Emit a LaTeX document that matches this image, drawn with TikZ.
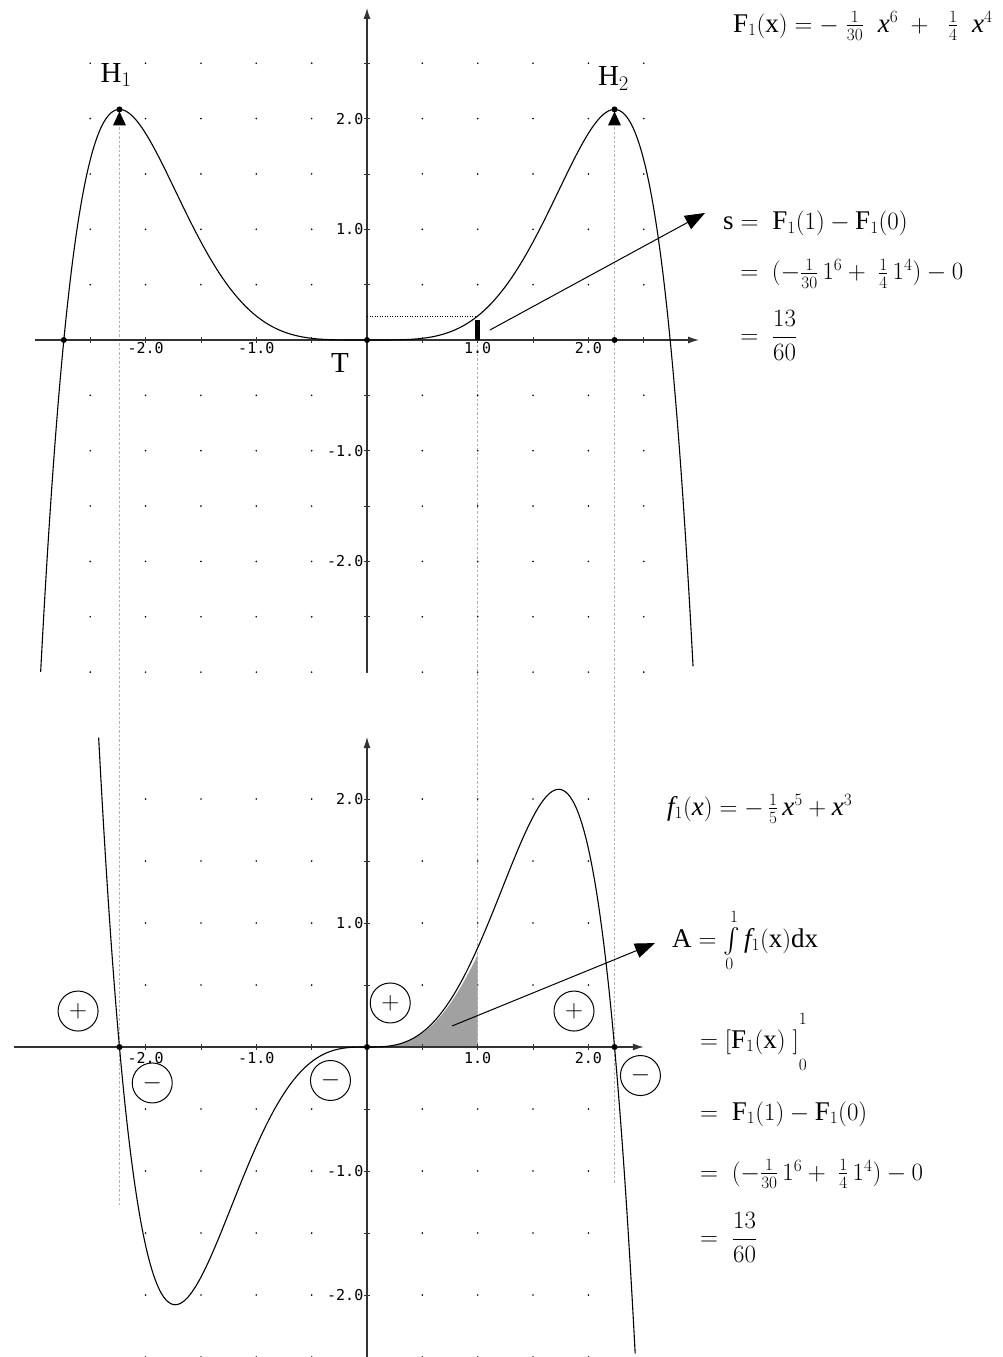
\documentclass[tikz,border=0pt]{standalone}
\usepackage{amsmath}
\usepackage{fontspec}
\setmainfont{Liberation Serif}
\newfontfamily\tickfont{DejaVu Sans Mono}
\usepackage{tikz}
\usetikzlibrary{arrows.meta, calc, positioning}

\begin{document}
\begin{tikzpicture}[x=110.7pt, y=110.7pt,
        lower/.style={yshift=-707pt, y=124pt},
        axisline/.style={black!80, line width=1.2pt},
        axisarrow/.style={-{Latex[length=11pt,width=7pt]}},
        graphline/.style={black, line width=1.1pt},
        guideline/.style={black!30, line width=1pt, dash pattern=on 2.5pt off 2pt},
        zeropt/.style={circle, fill=black, inner sep=0pt, minimum size=6pt},
        ticklabel/.style={font=\tickfont\fontsize{15}{17}\selectfont, inner sep=1.5pt},
        mathtext/.style={font=\fontsize{27}{31}\selectfont, inner sep=0pt, anchor=base west},
        ptlabel/.style={font=\fontsize{29}{32}\selectfont, inner sep=0pt, anchor=base},
        signcircle/.style={circle, draw, line width=1pt, minimum size=40pt, inner sep=0pt, font=\fontsize{26}{30}\selectfont},
        pointer/.style={-{Triangle[length=20pt,width=15pt]}, line width=1pt}]
    \useasboundingbox (-367pt,-1017pt) rectangle (635pt,340pt);

    % Points that the guide lines join
    \coordinate (H1) at (-2.236,2.083);
    \coordinate (H2) at (2.236,2.083);
    \coordinate (S) at (1,0);
    \begin{scope}[lower]
        \coordinate (H1low) at (-2.236,-1.29);
        \coordinate (H2low) at (2.236,-1.10);
        \coordinate (Slow) at (1,0);
    \end{scope}

    % Guide lines between the two graphs
    \draw[guideline] (H1) -- (H1low);
    \draw[guideline] (H2) -- (H2low);
    \draw[guideline] (S) -- (Slow);

    % Upper graph: grid dots
    \foreach \gx in {-2.5,-2,...,2.5}
        \foreach \gy in {-3,-2.5,...,2.5}
            \fill (\gx,\gy) circle (0.9pt);

    % Upper graph: axes, ticks and tick labels
    \draw[axisline, axisarrow] (-3,0) -- (3,0);
    \draw[axisline, axisarrow] (0,-3) -- (0,3);
    \foreach \t in {-2.5,-2,...,2.5} {
        \draw[axisline, line width=0.8pt] ([yshift=-3pt]\t,0) -- ([yshift=3pt]\t,0);
        \draw[axisline, line width=0.8pt] ([xshift=-3pt]0,\t) -- ([xshift=3pt]0,\t);
    }
    \foreach \t/\l in {-2/-2.0, -1/-1.0, 1/1.0, 2/2.0} {
        \node[ticklabel, below] (ux\t) at ([yshift=-1pt]\t,0) {\l};
        \node[ticklabel, left] (uy\t) at ([xshift=-2pt]0,\t) {\l};
    }

    % Curve of F_1
    \draw[graphline] plot[domain=-2.948:2.948, samples=240, smooth]
        (\x, {-(\x*\x*\x*\x*\x*\x)/30 + (\x*\x*\x*\x)/4});

    % Value F_1(1) as a bar
    \draw[black, line width=0.8pt, dash pattern=on 1pt off 1.5pt] (0,0.2167) -- (1,0.2167);
    \draw[line width=5.5pt] (S) -- (1,0.18);

    % Marked points of F_1
    \node[zeropt] (uz1) at (-2.739,0) {};
    \node[zeropt] (uz2) at (0,0) {};
    \node[zeropt] (uz3) at (2.236,0) {};
    \node[zeropt] (h1) at (H1) {};
    \node[zeropt] (h2) at (H2) {};
    \fill ([yshift=-2pt]H1) -- ++(-6.5pt,-14pt) -- ++(13pt,0) -- cycle;
    \fill ([yshift=-2pt]H2) -- ++(-6.5pt,-14pt) -- ++(13pt,0) -- cycle;
    \node[ptlabel] (h1lab) at (-2.267,2.33) {$\mathrm{H}_1$};
    \node[ptlabel] (h2lab) at (2.227,2.295) {$\mathrm{H}_2$};
    \node[ptlabel, anchor=center] (tlab) at (-0.244,-0.208) {T};

    % Formulas of the upper graph
    \node[mathtext] (ftop) at (3.306,2.782) {$\mathrm{F}_1(\mathrm{x}) = -\;\tfrac{1}{30}\;\;\mathit{x}^6 \;+\; \;\tfrac{1}{4}\;\;\mathit{x}^4$};
    \node[mathtext] (s1) at (3.216,0.994) {$\mathrm{s} = \;\mathrm{F}_1(1) - \mathrm{F}_1(0)$};
    \node[mathtext] (s2) at (3.37,0.542) {$= \;(-\tfrac{1}{30}\,1^6 + \;\tfrac{1}{4}\,1^4) - 0$};
    \node[mathtext] (s3) at (3.37,-0.032) {$= \;\dfrac{13}{60}$};
    \coordinate (sfoot) at (1.11,0.09);
    \draw[pointer] (sfoot) -- ($(s1.base west)+(-18pt,17pt)$);

    % Lower graph: f_1
    \begin{scope}[lower]
        % Grid dots
        \foreach \gx in {-2,-1.5,...,2}
            \foreach \gy in {-2.5,-2,...,2}
                \fill (\gx,\gy) circle (0.9pt);

        % Area from 0 to 1
        \fill[black!37] (0,0) -- plot[domain=0:1, samples=40, smooth]
            (\x, {0.93*(-(\x*\x*\x*\x*\x)/5 + \x*\x*\x)}) -- (1,0) -- cycle;

        % Axes, ticks and tick labels
        \draw[axisline, axisarrow] (-3.19,0) -- (2.5,0);
        \draw[axisline, axisarrow] (0,-2.5) -- (0,2.5);
        \foreach \t in {-2,-1.5,...,2} {
            \draw[axisline, line width=0.8pt] ([yshift=-3pt]\t,0) -- ([yshift=3pt]\t,0);
            \draw[axisline, line width=0.8pt] ([xshift=-3pt]0,\t) -- ([xshift=3pt]0,\t);
        }
        \foreach \t/\l in {-2/-2.0, -1/-1.0, 1/1.0, 2/2.0} {
            \node[ticklabel, below] (lx\t) at ([yshift=-4pt]\t,0) {\l};
            \node[ticklabel, left] (ly\t) at ([xshift=-2pt]0,\t) {\l};
        }

        % Curve of f_1
        \draw[graphline] plot[domain=-2.424:2.424, samples=240, smooth]
            (\x, {-(\x*\x*\x*\x*\x)/5 + \x*\x*\x});

        % Zeros of f_1
        \node[zeropt] (lz1) at (-2.236,0) {};
        \node[zeropt] (lz2) at (0,0) {};
        \node[zeropt] (lz3) at (2.236,0) {};

        % Signs of f_1
        \node[signcircle] (plus1) at (-2.61,0.29) {$+$};
        \node[signcircle] (plus2) at (0.21,0.355) {$+$};
        \node[signcircle] (plus3) at (1.87,0.29) {$+$};
        \node[signcircle] (minus1) at (-1.94,-0.29) {$-$};
        \node[signcircle] (minus2) at (-0.33,-0.27) {$-$};
        \node[signcircle] (minus3) at (2.47,-0.23) {$-$};

        % Formulas of the lower graph
        \node[mathtext] (flow) at (2.71,1.871) {$\mathit{f}_1(\mathit{x}) = -\,\tfrac{1}{5}\,\mathit{x}^5 + \mathit{x}^3$};
        \node[mathtext] (a1) at (2.755,0.806) {$\mathrm{A} = \int\limits_0^1\mathit{f}_1(\mathrm{x})\mathrm{dx}$};
        \node[mathtext] (a2) at (3.008,-0.008) {$= [\mathrm{F}_1(\mathrm{x})\;]^{\raisebox{0.55em}{$\scriptstyle 1$}}_{\raisebox{-0.6em}{$\scriptstyle 0$}}$};
        \node[mathtext] (a3) at (3.008,-0.589) {$= \;\mathrm{F}_1(1) - \mathrm{F}_1(0)$};
        \node[mathtext] (a4) at (3.008,-1.073) {$= \;(-\tfrac{1}{30}\,1^6 + \;\tfrac{1}{4}\,1^4) - 0$};
        \node[mathtext] (a5) at (3.008,-1.60) {$= \;\dfrac{13}{60}$};
        \coordinate (afoot) at (0.77,0.17);
        \draw[pointer] (afoot) -- ($(a1.base west)+(-17pt,4pt)$);
    \end{scope}
\end{tikzpicture}
\end{document}
